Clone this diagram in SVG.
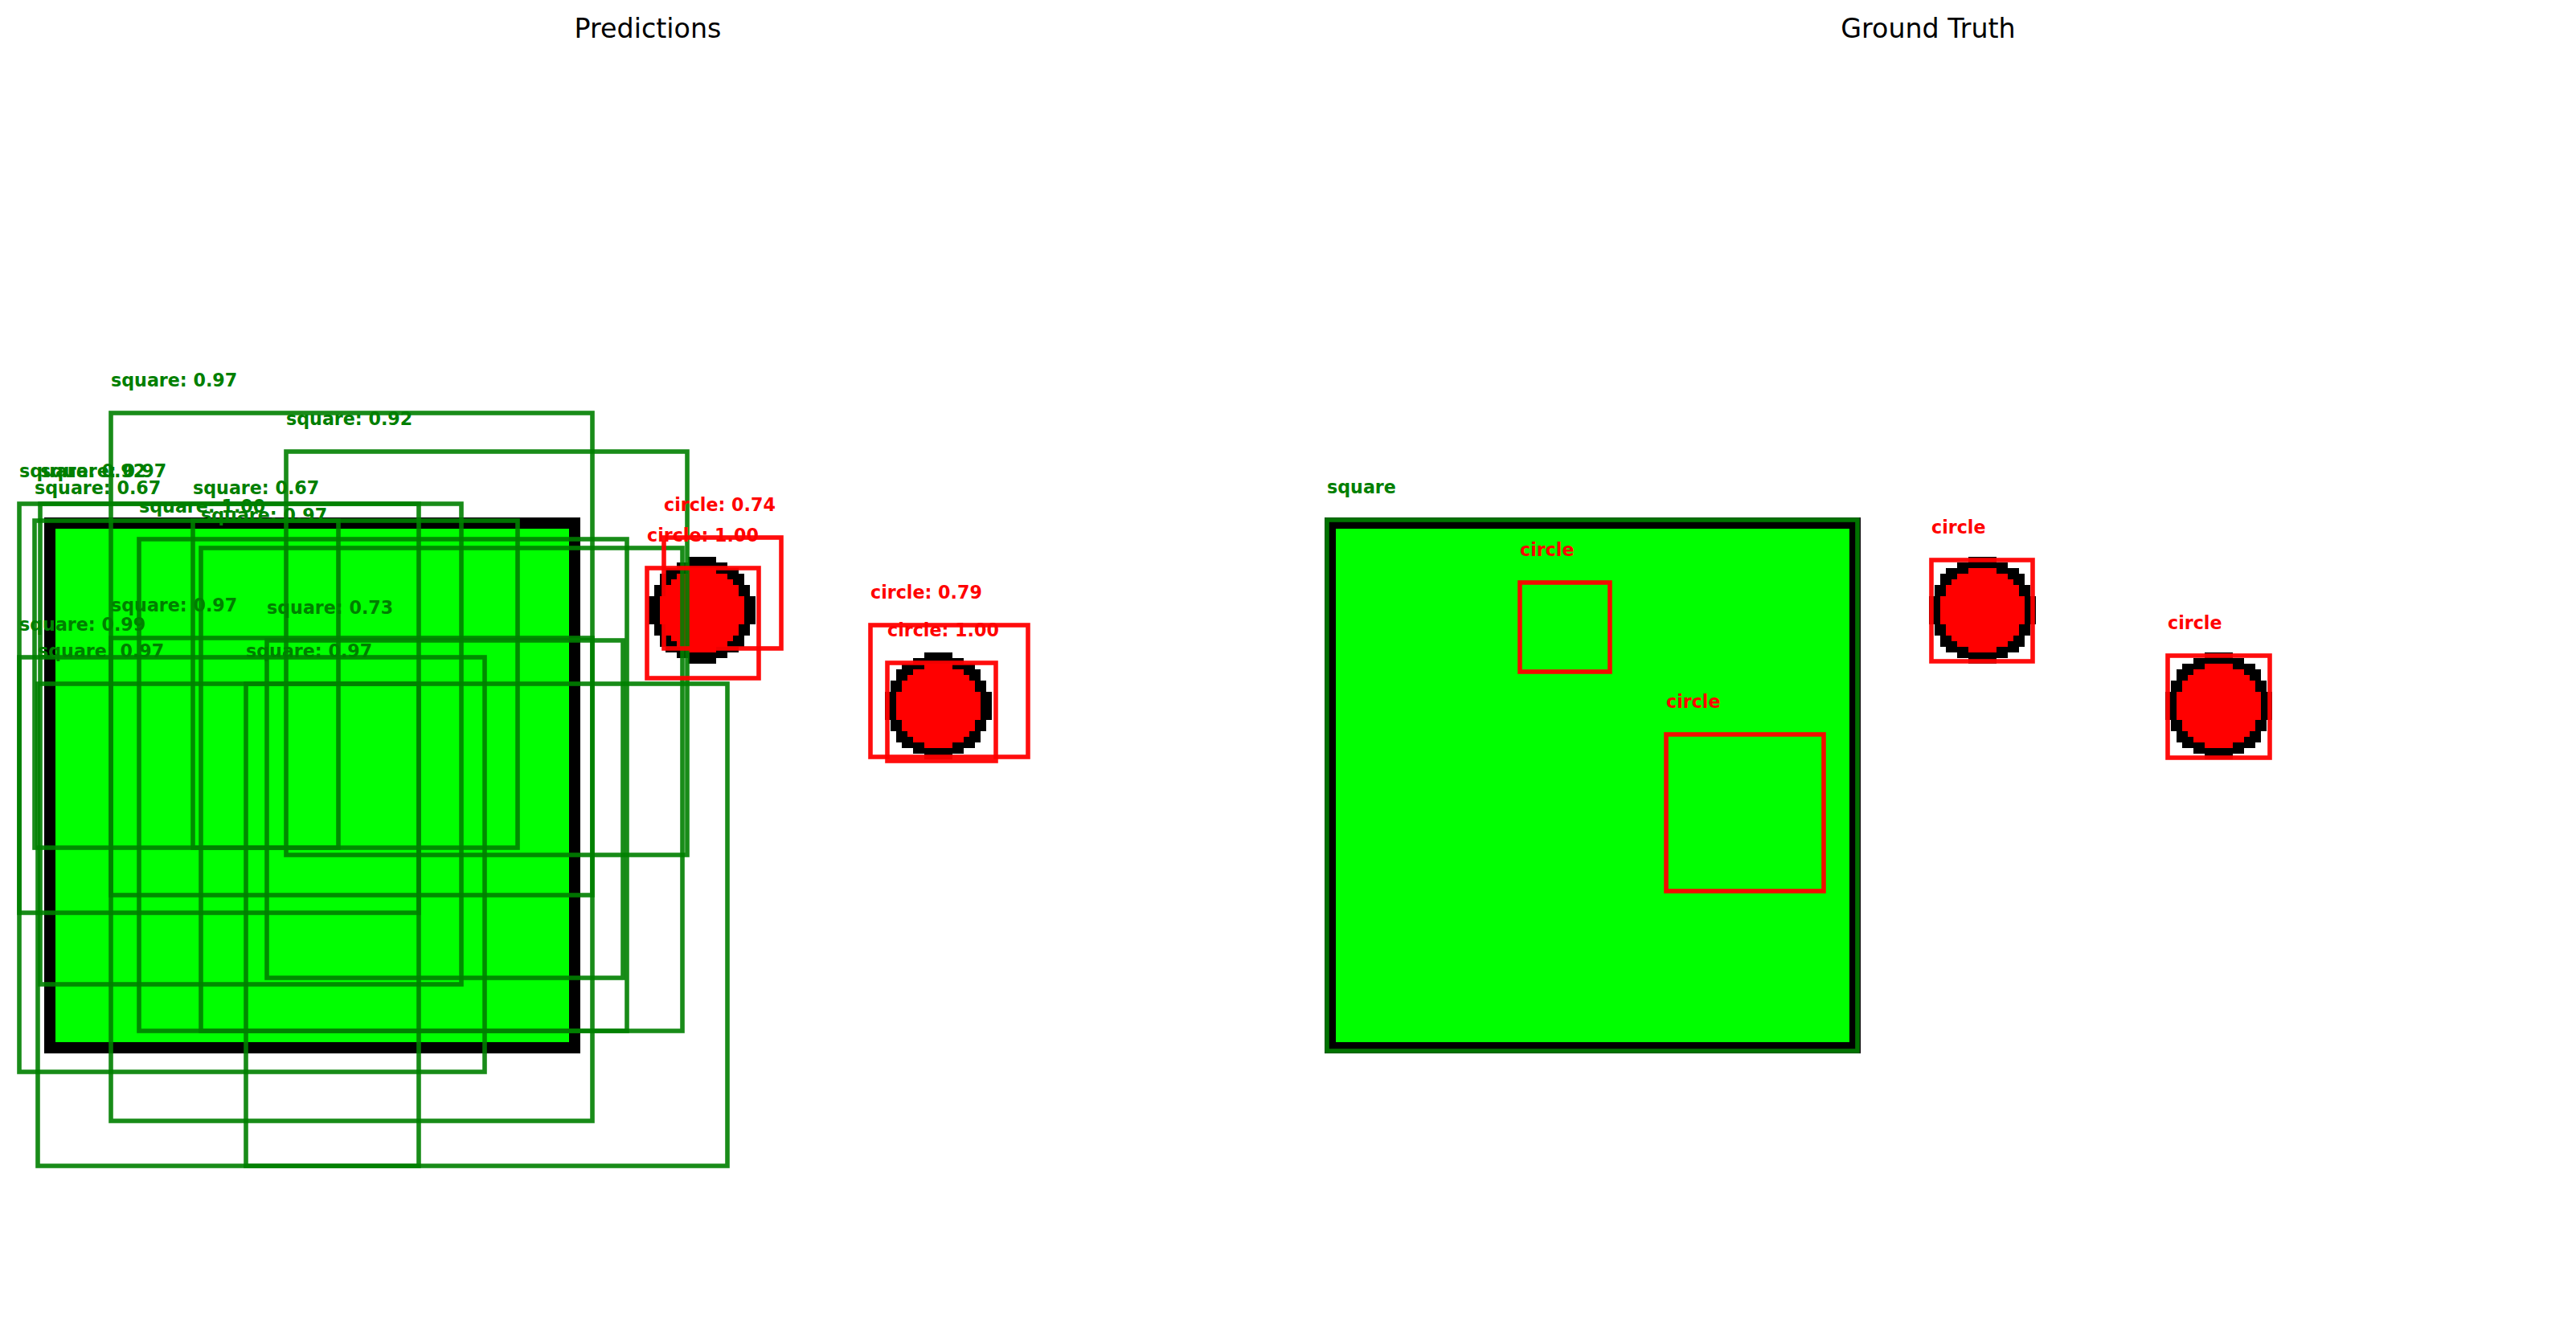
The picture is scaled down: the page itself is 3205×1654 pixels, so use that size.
<svg xmlns="http://www.w3.org/2000/svg" xmlns:xlink="http://www.w3.org/1999/xlink" width="3205" height="1654" viewBox="0 0 3205 1654">
<style>
.title{font-family:"DejaVu Sans","Liberation Sans",sans-serif;font-size:33.3px;fill:#000;text-anchor:middle}
.lbl{font-family:"DejaVu Sans","Liberation Sans",sans-serif;font-size:22.2px;font-weight:bold}
.g{fill:#007f00}
.r{fill:#ff0000}
.gb{fill:none;stroke:#008000;stroke-opacity:0.9;stroke-width:5.6}
.rb{fill:none;stroke:#ff0000;stroke-opacity:0.95;stroke-width:5.6}
</style>
<defs>
<g id="circ" shape-rendering="crispEdges">
<polygon fill="#000" points="7,0 12,0 12,1 14,1 14,2 16,2 16,3 17,3 17,5 18,5 18,7 19,7 19,12 18,12 18,14 17,14 17,16 16,16 16,17 14,17 14,18 12,18 12,19 7,19 7,18 5,18 5,17 3,17 3,16 2,16 2,14 1,14 1,12 0,12 0,7 1,7 1,5 2,5 2,3 3,3 3,2 5,2 5,1 7,1"/>
<polygon fill="#ff0000" points="7,2 12,2 12,3 14,3 14,4 15,4 15,5 16,5 16,7 17,7 17,12 16,12 16,14 15,14 15,15 14,15 14,16 12,16 12,17 7,17 7,16 5,16 5,15 4,15 4,14 3,14 3,12 2,12 2,7 3,7 3,5 4,5 4,4 5,4 5,3 7,3"/>
</g>
<g id="img">
<rect x="0" y="0" width="667" height="667" fill="#000"/>
<rect x="14" y="14" width="639" height="639" fill="#00ff00"/>
</g>
</defs>
<rect width="3205" height="1654" fill="#fff"/>

<g id="predictions-panel">
<text class="title" x="806" y="47">Predictions</text>
<g id="pred-image">
<use xlink:href="#img" x="55" y="644"/>
<use xlink:href="#circ" transform="translate(807,693) scale(7)"/>
<use xlink:href="#circ" transform="translate(1101,812) scale(7)"/>
</g>
<g id="pred-boxes">
<rect class="gb" x="138" y="514" width="599" height="881"/>
<rect class="gb" x="356" y="562" width="499" height="502"/>
<rect class="gb" x="24" y="627" width="497" height="509"/>
<rect class="gb" x="50" y="627" width="524" height="598"/>
<rect class="gb" x="43" y="648" width="378" height="407"/>
<rect class="gb" x="240" y="648" width="404" height="407"/>
<rect class="gb" x="173" y="671" width="607" height="612"/>
<rect class="gb" x="250" y="682" width="599" height="601"/>
<rect class="gb" x="138" y="794" width="599" height="320"/>
<rect class="gb" x="332" y="797" width="443" height="420"/>
<rect class="gb" x="24" y="818" width="579" height="516"/>
<rect class="gb" x="47" y="851" width="474" height="600"/>
<rect class="gb" x="306" y="851" width="599" height="600"/>
<rect class="rb" x="826" y="669" width="146" height="138"/>
<rect class="rb" x="805" y="707" width="139" height="137"/>
<rect class="rb" x="1083" y="778" width="196" height="164"/>
<rect class="rb" x="1104" y="825" width="135" height="122"/>
</g>
<g id="pred-labels">
<text class="lbl g" x="138" y="481">square: 0.97</text>
<text class="lbl g" x="356" y="529">square: 0.92</text>
<text class="lbl g" x="24" y="594">square: 0.92</text>
<text class="lbl g" x="50" y="594">square: 0.97</text>
<text class="lbl g" x="43" y="615">square: 0.67</text>
<text class="lbl g" x="240" y="615">square: 0.67</text>
<text class="lbl g" x="173" y="638">square: 1.00</text>
<text class="lbl g" x="250" y="649">square: 0.97</text>
<text class="lbl g" x="138" y="761">square: 0.97</text>
<text class="lbl g" x="332" y="764">square: 0.73</text>
<text class="lbl g" x="24" y="785">square: 0.99</text>
<text class="lbl g" x="47" y="818">square: 0.97</text>
<text class="lbl g" x="306" y="818">square: 0.97</text>
<text class="lbl r" x="826" y="636">circle: 0.74</text>
<text class="lbl r" x="805" y="674">circle: 1.00</text>
<text class="lbl r" x="1083" y="745">circle: 0.79</text>
<text class="lbl r" x="1104" y="792">circle: 1.00</text>
</g>
</g>

<g id="ground-truth-panel">
<text class="title" x="2399" y="47">Ground Truth</text>
<g id="gt-image">
<use xlink:href="#img" x="1648" y="644"/>
<use xlink:href="#circ" transform="translate(2400,693) scale(7)"/>
<use xlink:href="#circ" transform="translate(2694,812) scale(7)"/>
</g>
<g id="gt-boxes">
<rect class="gb" x="1651" y="647" width="660" height="661"/>
<rect class="rb" x="1891" y="725" width="112" height="111"/>
<rect class="rb" x="2073" y="914" width="196" height="195"/>
<rect class="rb" x="2403" y="697" width="126" height="126"/>
<rect class="rb" x="2697" y="816" width="127" height="127"/>
</g>
<g id="gt-labels">
<text class="lbl g" x="1651" y="614">square</text>
<text class="lbl r" x="1891" y="692">circle</text>
<text class="lbl r" x="2073" y="881">circle</text>
<text class="lbl r" x="2403" y="664">circle</text>
<text class="lbl r" x="2697" y="783">circle</text>
</g>
</g>
</svg>
